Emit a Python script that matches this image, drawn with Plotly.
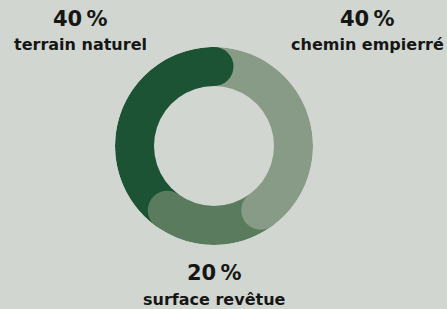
import numpy as np
import plotly.graph_objects as go

# Data
categories = ["chemin empierré", "surface revêtue", "terrain naturel"]
values = [40, 20, 40]
colors = ["#879b86", "#5b7b5e", "#1b5334"]

BG = "#d1d7d0"
total = sum(values)
spans = [v / total * 360 for v in values]
ends = list(np.cumsum(spans))
starts = [e - s for e, s in zip(ends, spans)]
centers = [s + w / 2 for s, w in zip(starts, spans)]

inner = 0.606
fig = go.Figure()
fig.add_trace(go.Barpolar(
    r=[1 - inner] * len(values), base=[inner] * len(values),
    theta=centers, width=spans,
    marker=dict(color=colors, line=dict(width=0)),
    hoverinfo="skip", showlegend=False,
))
# rounded caps at the end of each segment
fig.add_trace(go.Scatterpolar(
    r=[(1 + inner) / 2] * len(values), theta=ends, mode="markers",
    marker=dict(size=39, color=colors, line=dict(width=0)),
    hoverinfo="skip", showlegend=False,
))

FONT = "DejaVu Sans"
fig.update_layout(
    width=447, height=309,
    margin=dict(l=0, r=0, t=0, b=0),
    paper_bgcolor=BG, plot_bgcolor=BG,
    polar=dict(
        domain=dict(x=[(214 - 99) / 447, (214 + 99) / 447],
                    y=[(163 - 99) / 309, (163 + 99) / 309]),
        bgcolor="rgba(0,0,0,0)",
        radialaxis=dict(range=[0, 1], visible=False, showgrid=False),
        angularaxis=dict(rotation=90, direction="clockwise", visible=False,
                         showgrid=False),
        barmode="overlay",
    ),
    font=dict(family=FONT, color="#1a1a1a"),
)

# label positions in pixels: x center, y of pct, y of name
label_pos = {
    "terrain naturel": (80, 19, 45),
    "chemin empierré": (367, 19, 45),
    "surface revêtue": (214, 273, 299),
}
for cat, val in zip(categories, values):
    x, ypct, yname = label_pos[cat]
    fig.add_annotation(x=x / 447, y=1 - ypct / 309, xref="paper", yref="paper",
                       text=f"<b>{val}\u2009%</b>", showarrow=False,
                       font=dict(size=21, family=FONT, color="#161616"),
                       xanchor="center", yanchor="middle")
    fig.add_annotation(x=x / 447, y=1 - yname / 309, xref="paper", yref="paper",
                       text=f"<b>{cat}</b>", showarrow=False,
                       font=dict(size=16, family=FONT, color="#161616"),
                       xanchor="center", yanchor="middle")

fig.write_html("out.html", config={"displayModeBar": False},
               post_script="document.body.style.margin='0';document.body.style.overflow='hidden';")
